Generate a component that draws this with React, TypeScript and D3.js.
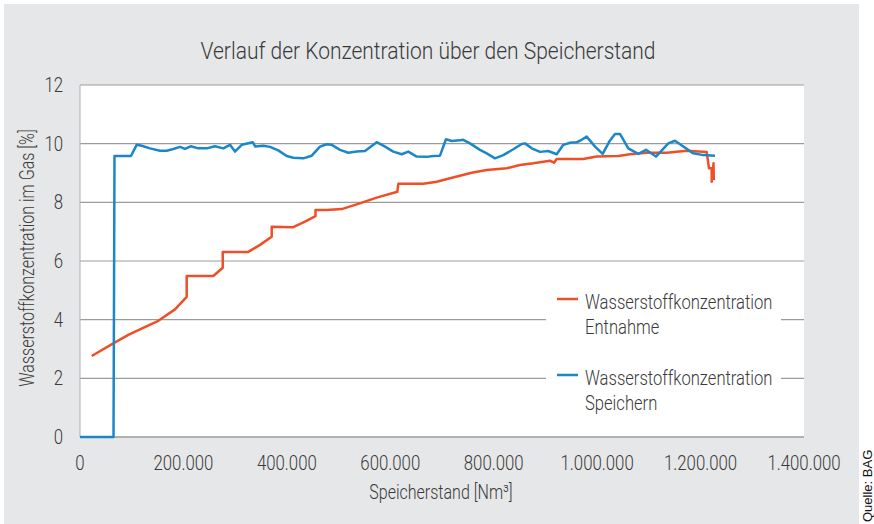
import React, { useEffect, useRef } from 'react';
import * as d3 from 'd3';

// Speicherstand [Nm³] / Konzentration [%] - Entnahme
const entnahmeX = [22600, 64400, 93400, 116000, 151400, 183700, 206300, 206300, 257800, 276000, 276000, 325400, 348100, 370700, 370700, 411300, 435100, 455400, 455400, 477000, 506000, 535000, 573700, 613600, 615500, 663800, 689700, 715500, 757400, 786400, 825100, 850800, 876600, 908800, 916600, 921800, 973200, 999100, 1040900, 1063500, 1095800, 1134500, 1173200, 1211800, 1216300, 1221500, 1221500, 1223000, 1225000, 1225600];
const entnahmeY = [2.76, 3.19, 3.48, 3.67, 3.96, 4.35, 4.78, 5.49, 5.49, 5.77, 6.31, 6.31, 6.55, 6.83, 7.17, 7.15, 7.34, 7.53, 7.74, 7.74, 7.77, 7.93, 8.16, 8.36, 8.63, 8.63, 8.70, 8.82, 9.01, 9.10, 9.16, 9.27, 9.33, 9.42, 9.35, 9.48, 9.48, 9.56, 9.58, 9.64, 9.69, 9.69, 9.76, 9.72, 9.16, 9.16, 8.70, 8.82, 9.33, 8.76];

// Speichern
const speichernX = [0, 40600, 64800, 66700, 98600, 109600, 119300, 135400, 154700, 167700, 180400, 193400, 203000, 214100, 228800, 245000, 261000, 277100, 290100, 299700, 312700, 334000, 339000, 354500, 367400, 383400, 399700, 412500, 431800, 448100, 464100, 477100, 486700, 502800, 518800, 535000, 551100, 573700, 589800, 605800, 622100, 634800, 651100, 670400, 683200, 696100, 707700, 718800, 734800, 741200, 754100, 773500, 786400, 802500, 818500, 837900, 854100, 860500, 873500, 889500, 905500, 921800, 934600, 947500, 960500, 966900, 979800, 995900, 1010700, 1023500, 1034500, 1044200, 1060200, 1079600, 1094500, 1113800, 1137600, 1150500, 1166600, 1185900, 1205300, 1227900];
const speichernY = [0, 0, 0, 9.58, 9.58, 9.96, 9.93, 9.84, 9.76, 9.76, 9.82, 9.89, 9.82, 9.91, 9.84, 9.84, 9.91, 9.84, 9.96, 9.73, 9.96, 10.05, 9.90, 9.93, 9.89, 9.77, 9.58, 9.52, 9.50, 9.59, 9.90, 9.98, 9.96, 9.79, 9.69, 9.73, 9.75, 10.05, 9.90, 9.73, 9.64, 9.73, 9.56, 9.55, 9.58, 9.59, 10.15, 10.09, 10.12, 10.13, 10.01, 9.79, 9.67, 9.50, 9.61, 9.81, 9.99, 10.01, 9.84, 9.72, 9.75, 9.64, 9.96, 10.03, 10.05, 10.10, 10.24, 9.90, 9.65, 10.07, 10.33, 10.33, 9.84, 9.65, 9.79, 9.56, 10.01, 10.10, 9.90, 9.67, 9.61, 9.59];

const xTicks = [0, 200000, 400000, 600000, 800000, 1000000, 1200000, 1400000];
const yTicks = [0, 2, 4, 6, 8, 10, 12];

const seriesNames = [
    ['Wasserstoffkonzentration', 'Entnahme'],
    ['Wasserstoffkonzentration', 'Speichern'],
];

const RED = '#ef4f26';
const BLUE = '#1b87c9';
const TEXT = '#3a3a3a';
const FONT = 'Roboto, "Liberation Sans", sans-serif';
const SX = 0.8; // schmale Schrift nachbilden

const App: React.FC = () => {
    const ref = useRef<SVGSVGElement>(null);
    const width = 874;
    const height = 524;
    const plot = { left: 80, right: 804, top: 85, bottom: 437 };

    useEffect(() => {
        document.body.style.margin = '0';
        drawChart();
        //eslint-disable-next-line
    }, []);

    const drawChart = () => {
        const svg = d3.select(ref.current);
        svg.selectAll('*').remove();

        const x = d3.scaleLinear().domain([0, 1400000]).range([plot.left, plot.right]);
        const y = d3.scaleLinear().domain([0, 12]).range([plot.bottom, plot.top]);
        const de = d3.formatLocale({ decimal: ',', thousands: '.', grouping: [3], currency: ['', '€'] });
        const fmt = de.format(',d');

        // Hintergrund
        svg.append('rect').attr('width', width).attr('height', height).attr('fill', '#fff');
        svg.append('rect').attr('x', 4).attr('y', 4).attr('width', 855).attr('height', 520).attr('fill', '#e6e7e8');
        svg.append('rect')
            .attr('x', plot.left).attr('y', plot.top)
            .attr('width', plot.right - plot.left).attr('height', plot.bottom - plot.top)
            .attr('fill', '#fff');

        // Gitterlinien
        svg.append('g').selectAll('line')
            .data(yTicks)
            .enter().append('line')
            .attr('x1', plot.left).attr('x2', plot.right)
            .attr('y1', d => y(d)).attr('y2', d => y(d))
            .attr('stroke', '#9b9b9b')
            .attr('stroke-width', d => (d === 0 ? 1.6 : 1.1));
        svg.append('line')
            .attr('x1', plot.left).attr('x2', plot.left)
            .attr('y1', plot.top).attr('y2', plot.bottom)
            .attr('stroke', '#b5b5b5').attr('stroke-width', 1.1);

        // Achsenbeschriftung
        svg.append('g').selectAll('text')
            .data(yTicks)
            .enter().append('text')
            .attr('transform', d => `translate(63,${y(d) + 7}) scale(${SX},1)`)
            .attr('text-anchor', 'end')
            .attr('font-family', FONT).attr('font-weight', 300).attr('font-size', 21).attr('fill', TEXT)
            .text(d => d);
        svg.append('g').selectAll('text')
            .data(xTicks)
            .enter().append('text')
            .attr('transform', d => `translate(${x(d)},470) scale(${SX},1)`)
            .attr('text-anchor', 'middle')
            .attr('font-family', FONT).attr('font-weight', 300).attr('font-size', 21).attr('fill', TEXT)
            .text(d => fmt(d));

        svg.append('text')
            .attr('transform', `translate(441,499) scale(${SX},1)`)
            .attr('text-anchor', 'middle')
            .attr('font-family', FONT).attr('font-weight', 300).attr('font-size', 20).attr('fill', TEXT)
            .text('Speicherstand [Nm³]');
        svg.append('text')
            .attr('transform', `translate(34,258) rotate(-90) scale(${SX},1)`)
            .attr('text-anchor', 'middle')
            .attr('font-family', FONT).attr('font-weight', 300).attr('font-size', 20).attr('fill', TEXT)
            .text('Wasserstoffkonzentration im Gas [%]');
        svg.append('text')
            .attr('transform', `translate(428,59) scale(0.875,1)`)
            .attr('text-anchor', 'middle')
            .attr('font-family', FONT).attr('font-weight', 300).attr('font-size', 24).attr('fill', TEXT)
            .text('Verlauf der Konzentration über den Speicherstand');

        // Linien
        const line = d3.line<[number, number]>().x(d => x(d[0])).y(d => y(d[1]));
        const red = entnahmeX.map((v, i) => [v, entnahmeY[i]] as [number, number]);
        const blue = speichernX.map((v, i) => [v, speichernY[i]] as [number, number]);

        svg.append('path').datum(red)
            .attr('fill', 'none').attr('stroke', RED).attr('stroke-width', 2.5)
            .attr('stroke-linejoin', 'round')
            .attr('d', line);
        svg.append('path').datum(blue)
            .attr('fill', 'none').attr('stroke', BLUE).attr('stroke-width', 2.5)
            .attr('stroke-linejoin', 'round')
            .attr('d', line);

        // Legende
        svg.append('rect').attr('x', 546).attr('y', 283).attr('width', 235).attr('height', 132).attr('fill', '#fff');
        const legend = svg.append('g').selectAll('g')
            .data(seriesNames)
            .enter().append('g')
            .attr('transform', (d, i) => `translate(0,${i * 76})`);
        legend.append('line')
            .attr('x1', 557).attr('x2', 578).attr('y1', 299).attr('y2', 299)
            .attr('stroke', (d, i) => (i === 0 ? RED : BLUE)).attr('stroke-width', 2.5);
        legend.append('text')
            .attr('transform', `translate(585,309) scale(0.83,1)`)
            .attr('font-family', FONT).attr('font-weight', 300).attr('font-size', 20).attr('fill', TEXT)
            .text(d => d[0]);
        legend.append('text')
            .attr('transform', `translate(585,334) scale(0.83,1)`)
            .attr('font-family', FONT).attr('font-weight', 300).attr('font-size', 20).attr('fill', TEXT)
            .text(d => d[1]);

        // Quelle
        svg.append('text')
            .attr('transform', 'translate(872,522) rotate(-90)')
            .attr('font-family', '"Liberation Sans", Arial, sans-serif').attr('font-size', 13).attr('fill', '#111')
            .text('Quelle: BAG');
    };

    return <svg ref={ref} width={width} height={height} style={{ display: 'block' }}></svg>;
};

export default App;
